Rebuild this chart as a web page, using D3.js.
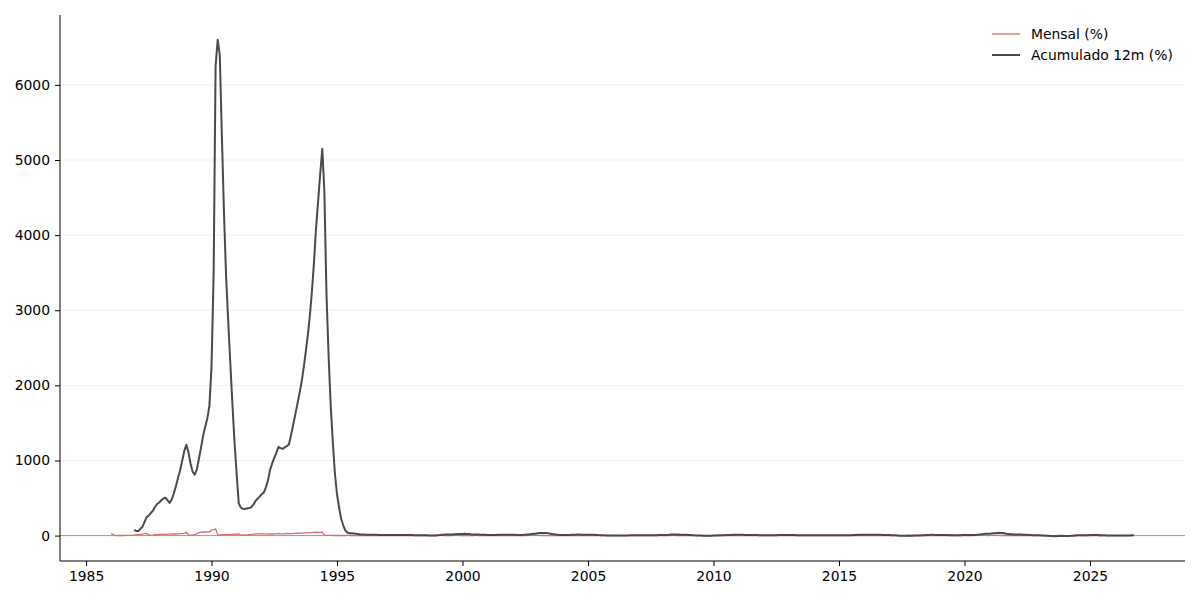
<!DOCTYPE html>
<meta charset="utf-8">
<style>
body { margin: 0; background: #fff; }
svg text { font-family: "DejaVu Sans", sans-serif; font-size: 13.9px; fill: #000; }
.axis path, .axis line { stroke: #000; }
.grid line { stroke: #ebebeb; stroke-width: 0.8; }
</style>
<body>
<svg width="1200" height="600"></svg>
<script src="https://cdn.jsdelivr.net/npm/d3@7"></script>
<script>

// monthly series, one row per year
var mensalStart = new Date(1986, 0, 1);
var mensal = [
  25, 14, 0, -1, 1, 1, 1, 2, 2, 2, 3, 7,        // 1986
  12, 14, 15, 20, 27, 30, 9, 4, 7, 11, 14, 15,  // 1987
  16, 17, 17, 19, 19, 20, 21, 21, 24, 27, 26, 30,
  44, 9, 5, 8, 14, 26, 38, 45, 48, 48, 49, 50,  // 1989
  75, 80, 86, 12, 10, 10, 12, 12, 12, 14, 16, 16,
  19, 21, 7, 8, 6, 9, 12, 15, 16, 22, 24, 23,   // 1991
  26, 24, 22, 19, 21, 21, 22, 25, 27, 24, 24, 24,
  28, 26, 27, 28, 30, 31, 32, 33, 36, 35, 36, 36,
  42, 42, 45, 41, 42, 46, 5, 3, 2, 2, 3, 1,     // 1994
  1, 1, 1, 1, 0, 2, 2, 1, -1, 0, 1, 0,
  2, 1, 0, 1, 1, 1, 1, 0, 0, 0, 0, 1,
  2, 0, 1, 1, 0, 1, 0, 0, 1, 0, 1, 1,
  1, 0, 0, 0, 0, 0, 0, 0, 0, 0, 0, 1,
  1, 4, 2, 0, 0, 1, 2, 1, 2, 2, 2, 1,           // 1999
  1, 0, 0, 0, 0, 1, 2, 2, 0, 0, 1, 1,
  1, 0, 0, 1, 0, 1, 1, 1, 0, 1, 1, 0,
  0, 0, 0, 1, 1, 1, 1, 2, 2, 4, 5, 4,
  2, 2, 1, 1, 0, -1, 0, 0, 1, 0, 0, 1,
  1, 1, 1, 1, 1, 1, 1, 1, 0, 0, 1, 1,           // 2004
  0, 0, 1, 1, 0, 0, 0, -1, 0, 1, 0, 0,
  1, 0, 0, 0, 0, 1, 0, 0, 0, 0, 1, 0,
  1, 0, 0, 0, 0, 0, 0, 1, 1, 1, 1, 1,
  1, 1, 1, 1, 2, 2, 1, 0, 0, 1, 0, 0,
  0, 0, -1, 0, 0, 0, 0, 0, 0, 0, 0, 0,          // 2009
  1, 1, 1, 1, 1, 1, 0, 1, 1, 1, 2, 1,
  1, 1, 1, 0, 0, 0, 0, 0, 1, 1, 0, 0,
  0, 0, 0, 1, 1, 1, 1, 1, 1, 0, 0, 1,
  0, 0, 0, 0, 0, 1, 0, 0, 1, 1, 0, 1,
  0, 0, 2, 1, 0, -1, -1, 0, 0, 0, 1, 1,         // 2014
  1, 0, 1, 1, 0, 1, 1, 0, 1, 2, 1, 0,
  1, 1, 1, 0, 1, 1, 0, 0, 0, 0, 0, 1,
  1, 0, 0, -1, -1, -1, -1, 0, 0, 0, 1, 1,
  1, 0, 1, 1, 1, 2, 1, 1, 2, 1, 0, -1,
  0, 1, 1, 1, 0, 1, 0, -1, 0, 1, 0, 2,          // 2019
  0, 0, 1, 1, 0, 2, 2, 3, 4, 3, 3, 1,
  3, 3, 3, 2, 4, 1, 1, 1, -1, 1, 0, 1,
  2, 1, 2, 1, 1, 1, 0, -1, -1, -1, 0, 0,
  0, 0, 0, -1, -2, -2, -1, 0, 0, 1, 1, 1,
  0, -1, 0, 0, 1, 1, 1, 0, 1, 1, 1, 1,          // 2024
  0, 1, 0, 0, 0, -2, -1, 0, 0, 0, 0, 0,
  0, 0, 0, 1, 0, 0, 0, 0, 0, 0                  // 2026
];

// 12-month accumulated, starts Dec 1986
var acumStart = new Date(1986, 11, 1);
var acumulado = [
  75,
  62, 60, 90, 115, 180, 245, 265, 300, 330, 380, 420, 440,                 // 1987
  470, 495, 505, 470, 435, 480, 560, 660, 770, 870, 1000, 1130,
  1210, 1100, 960, 850, 810, 880, 1020, 1170, 1330, 1450, 1560, 1730,
  2250, 3500, 6250, 6600, 6400, 5300, 4300, 3450, 2850, 2300, 1750, 1250, // 1990
  830, 430, 375, 357, 355, 362, 366, 375, 412, 458, 490, 518,
  550, 575, 640, 735, 870, 960, 1030, 1100, 1180, 1165, 1155, 1175,
  1190, 1215, 1330, 1465, 1600, 1740, 1880, 2030, 2220, 2430, 2660, 2920,
  3250, 3650, 4080, 4450, 4810, 5150, 4580, 3210, 2380, 1740, 1240, 830,  // 1994
  550, 370, 230, 137, 70, 40, 32, 30, 28, 25, 20, 15,
  14, 13, 12, 11, 10, 10, 10, 10, 9, 9, 9, 9,
  9, 9, 8, 8, 8, 8, 8, 8, 8, 8, 8, 8,
  7, 6, 5, 5, 4, 4, 3, 3, 2, 2, 2, 2,
  3, 6, 10, 12, 13, 14, 15, 16, 18, 19, 20, 20,        // 1999
  22, 23, 22, 20, 17, 15, 15, 15, 13, 12, 10, 10,
  9, 9, 9, 9, 9, 10, 10, 10, 11, 11, 10, 10,
  10, 10, 9, 9, 9, 10, 12, 14, 16, 20, 24, 25,
  30, 33, 35, 35, 33, 30, 25, 20, 17, 12, 10, 9,
  8, 8, 8, 9, 10, 11, 12, 13, 13, 12, 12, 12,          // 2004
  12, 12, 12, 11, 9, 7, 6, 5, 3, 2, 1, 1,
  1, 0, 0, 0, 1, 1, 1, 2, 3, 3, 3, 4,
  4, 4, 4, 5, 5, 5, 5, 5, 6, 6, 7, 8,
  8, 9, 9, 11, 13, 14, 15, 14, 12, 11, 10, 10,
  8, 7, 5, 3, 2, 1, 0, -1, -2, -2, -2, -2,             // 2009
  0, 1, 2, 4, 5, 6, 7, 8, 9, 10, 11, 11,
  11, 11, 10, 9, 9, 8, 8, 8, 7, 7, 6, 5,
  4, 3, 3, 4, 4, 5, 6, 7, 8, 8, 7, 8,
  8, 8, 8, 7, 6, 6, 5, 4, 4, 5, 5, 6,
  6, 6, 6, 6, 5, 5, 5, 4, 4, 3, 3, 4,                  // 2014
  4, 4, 4, 4, 5, 5, 5, 7, 8, 10, 10, 11,
  11, 12, 12, 11, 11, 12, 11, 11, 10, 9, 8, 7,
  7, 6, 5, 3, 1, -1, -1, -2, -1, 0, -1, -1,
  0, 0, 1, 1, 5, 6, 8, 9, 10, 10, 9, 8,
  7, 8, 8, 8, 7, 6, 7, 5, 3, 3, 4, 7,                  // 2019
  7, 7, 7, 7, 7, 8, 10, 13, 17, 20, 24, 23,
  25, 28, 31, 32, 37, 36, 34, 31, 24, 21, 17, 18,
  16, 16, 14, 14, 10, 10, 10, 9, 8, 6, 5, 5,
  3, 1, 0, -1, -3, -5, -7, -8, -8, -7, -6, -5,
  -5, -5, -4, -3, -1, 1, 3, 4, 4, 5, 6, 6,             // 2024
  7, 8, 8, 8, 7, 5, 3, 3, 2, 2, 1, 0,
  0, 0, 0, 1, 1, 2, 2, 2, 3, 3                         // 2026
];

var yTicks = [0, 1000, 2000, 3000, 4000, 5000, 6000];
var xTickYears = [1985, 1990, 1995, 2000, 2005, 2010, 2015, 2020, 2025];
var legendLabels = ["Mensal (%)", "Acumulado 12m (%)"];
var colors = ["#d96b6b", "#4a4a4a"];

function toRows(start, values) {
  return values.map(function(v, i) {
    return { date: d3.timeMonth.offset(start, i), value: v };
  });
}

var mensalRows = toRows(mensalStart, mensal),
    acumRows = toRows(acumStart, acumulado);

var svg = d3.select("svg"),
    margin = {top: 15, right: 15, bottom: 39, left: 60},
    width = +svg.attr("width") - margin.left - margin.right,
    height = +svg.attr("height") - margin.top - margin.bottom;

var g = svg.append("g")
    .attr("transform", "translate(" + margin.left + "," + margin.top + ")");

// matplotlib-like 5% padding around the data
var allRows = mensalRows.concat(acumRows);
var tExt = d3.extent(allRows, function(d) { return +d.date; }),
    vExt = d3.extent(allRows, function(d) { return d.value; });
var tPad = (tExt[1] - tExt[0]) * 0.05,
    vPad = (vExt[1] - vExt[0]) * 0.05;

var x = d3.scaleTime()
    .domain([new Date(tExt[0] - tPad), new Date(tExt[1] + tPad)])
    .range([0, width]);
var y = d3.scaleLinear()
    .domain([vExt[0] - vPad, vExt[1] + vPad])
    .range([height, 0]);

g.append("g")
    .attr("class", "grid")
  .selectAll("line")
  .data(yTicks)
  .enter().append("line")
    .attr("x1", 0)
    .attr("x2", width)
    .attr("y1", function(d) { return y(d); })
    .attr("y2", function(d) { return y(d); });

g.append("line")
    .attr("x1", 0)
    .attr("x2", width)
    .attr("y1", y(0))
    .attr("y2", y(0))
    .attr("stroke", "#9a9a9a")
    .attr("stroke-width", 1);

var line = d3.line()
    .x(function(d) { return x(d.date); })
    .y(function(d) { return y(d.value); });

g.append("path")
    .datum(mensalRows)
    .attr("fill", "none")
    .attr("stroke", colors[0])
    .attr("stroke-width", 1.3)
    .attr("d", line);

g.append("path")
    .datum(acumRows)
    .attr("fill", "none")
    .attr("stroke", colors[1])
    .attr("stroke-width", 2)
    .attr("stroke-linejoin", "round")
    .attr("d", line);

var xAxis = g.append("g")
    .attr("class", "axis")
    .attr("transform", "translate(0," + height + ")")
    .call(d3.axisBottom(x)
      .tickValues(xTickYears.map(function(yr) { return new Date(yr, 0, 1); }))
      .tickFormat(d3.timeFormat("%Y"))
      .tickSize(5)
      .tickPadding(5));

var yAxis = g.append("g")
    .attr("class", "axis")
    .call(d3.axisLeft(y)
      .tickValues(yTicks)
      .tickFormat(d3.format("d"))
      .tickSize(5)
      .tickPadding(5));

// full-length spines like matplotlib
xAxis.select(".domain").attr("d", "M0,0H" + width);
yAxis.select(".domain").attr("d", "M0,0V" + height);
svg.selectAll(".axis text").style("font-size", "13.9px").attr("fill", "#000");

var legend = svg.append("g")
    .attr("transform", "translate(992,34)");

legendLabels.forEach(function(label, i) {
  var row = legend.append("g").attr("transform", "translate(0," + (i * 21) + ")");
  row.append("line")
      .attr("x1", 0).attr("x2", 28)
      .attr("stroke", colors[i])
      .attr("stroke-width", i ? 2 : 1.3);
  row.append("text")
      .attr("x", 39)
      .attr("dy", "0.35em")
      .text(label);
});

</script>
</body>
